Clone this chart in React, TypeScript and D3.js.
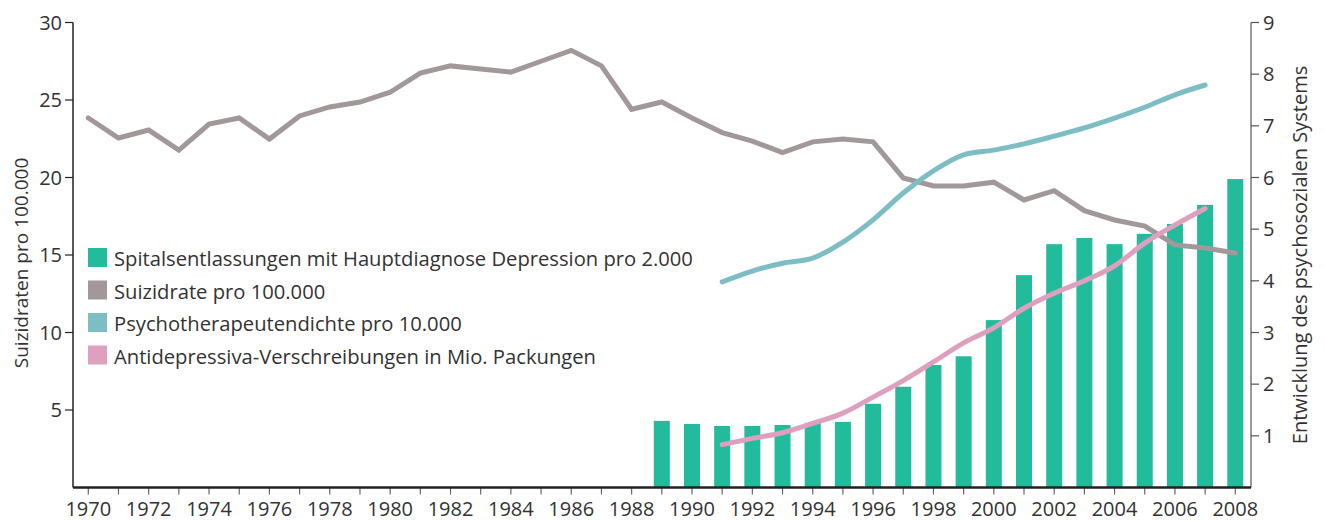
import React from "react";
import * as d3 from "d3";

const years = d3.range(1970, 2009);

// Suizidrate pro 100.000 (left axis), 1970-2008
const suicideRate = [
  23.84, 22.55, 23.06, 21.77, 23.45, 23.84, 22.48, 23.97, 24.55, 24.87,
  25.5, 26.74, 27.2, 27.0, 26.8, 27.5, 28.2, 27.2, 24.4, 24.87,
  23.84, 22.9, 22.35, 21.6, 22.3, 22.48, 22.3, 19.97, 19.45, 19.45,
  19.7, 18.55, 19.15, 17.86, 17.26, 16.87, 15.65, 15.45, 15.13,
];

// Spitalsentlassungen pro 2.000 (right axis), 1989-2008
const barYears = d3.range(1989, 2009);
const hospital = [
  1.29, 1.23, 1.19, 1.19, 1.21, 1.25, 1.27, 1.62, 1.95, 2.37,
  2.54, 3.24, 4.11, 4.71, 4.83, 4.71, 4.91, 5.1, 5.47, 5.97,
];

// Psychotherapeutendichte pro 10.000 (right axis), 1991-2007
const lineYears = d3.range(1991, 2008);
const therapists = [
  3.98, 4.19, 4.34, 4.44, 4.75, 5.18, 5.7, 6.13, 6.44, 6.53,
  6.65, 6.8, 6.96, 7.15, 7.36, 7.6, 7.79,
];

// Antidepressiva-Verschreibungen in Mio. Packungen (right axis), 1991-2007
const antidepressants = [
  0.83, 0.95, 1.06, 1.24, 1.44, 1.75, 2.07, 2.43, 2.8, 3.09,
  3.47, 3.76, 4.0, 4.29, 4.73, 5.08, 5.4,
];

const leftTicks = [5, 10, 15, 20, 25, 30];
const rightTicks = [1, 2, 3, 4, 5, 6, 7, 8, 9];
const yearLabels = d3.range(1970, 2009, 2);

const legendItems = [
  { label: "Spitalsentlassungen mit Hauptdiagnose Depression pro 2.000", color: "#22bb9b" },
  { label: "Suizidrate pro 100.000", color: "#a29899" },
  { label: "Psychotherapeutendichte pro 10.000", color: "#7dbec5" },
  { label: "Antidepressiva-Verschreibungen in Mio. Packungen", color: "#dfa0bf" },
];

const W = 1324;
const H = 521;
const font = "'Open Sans', sans-serif";
const textColor = "#333";
const fs = 20;

export default function App() {
  const x = d3.scaleLinear().domain([1970, 2008]).range([88.3, 1235.3]);
  const yLeft = d3.scaleLinear().domain([0, 30]).range([487.5, 22.5]);
  const yRight = d3.scaleLinear().domain([0, 9]).range([487.5, 22.5]);
  const axisLeftX = 73;
  const axisRightX = 1251;
  const base = yLeft(0);
  const barW = 16;

  const grayLine = d3
    .line<number>()
    .x((_, i) => x(years[i]))
    .y((d) => yLeft(d));

  const smoothLine = d3
    .line<number>()
    .x((_, i) => x(lineYears[i]))
    .y((d) => yRight(d))
    .curve(d3.curveMonotoneX);

  return (
    <svg
      width={W}
      height={H}
      style={{ position: "absolute", left: 0, top: 0, background: "#fff" }}
      fontFamily={font}
    >
      {/* bars */}
      {hospital.map((v, i) => (
        <rect
          key={barYears[i]}
          x={x(barYears[i]) - barW / 2}
          y={yRight(v)}
          width={barW}
          height={base - yRight(v)}
          fill="#22bb9b"
        />
      ))}

      {/* lines */}
      <path
        d={grayLine(suicideRate) ?? ""}
        fill="none"
        stroke="#a29899"
        strokeWidth={5}
        strokeLinecap="round"
      />
      <path
        d={smoothLine(therapists) ?? ""}
        fill="none"
        stroke="#7dbec5"
        strokeWidth={5}
        strokeLinecap="round"
      />
      <path
        d={smoothLine(antidepressants) ?? ""}
        fill="none"
        stroke="#dfa0bf"
        strokeWidth={5}
        strokeLinecap="round"
      />

      {/* left axis */}
      <line x1={axisLeftX} x2={axisLeftX} y1={yLeft(30)} y2={base} stroke="#222" strokeWidth={1.5} />
      {leftTicks.map((t) => (
        <g key={t}>
          <line x1={axisLeftX - 8} x2={axisLeftX} y1={yLeft(t)} y2={yLeft(t)} stroke="#222" strokeWidth={1.2} />
          <text x={axisLeftX - 11} y={yLeft(t)} dy="0.35em" textAnchor="end" fontSize={fs} fill={textColor}>
            {t}
          </text>
        </g>
      ))}
      <text
        transform={`translate(28,${(yLeft(30) + base) / 2 + 8}) rotate(-90)`}
        textAnchor="middle"
        fontSize={19}
        fill={textColor}
      >
        Suizidraten pro 100.000
      </text>

      {/* right axis */}
      <line x1={axisRightX} x2={axisRightX} y1={yRight(9)} y2={base} stroke="#555" strokeWidth={1.2} />
      {rightTicks.map((t) => (
        <g key={t}>
          <line x1={axisRightX} x2={axisRightX + 8} y1={yRight(t)} y2={yRight(t)} stroke="#555" strokeWidth={1.2} />
          <text x={axisRightX + 12} y={yRight(t)} dy="0.35em" textAnchor="start" fontSize={fs} fill={textColor}>
            {t}
          </text>
        </g>
      ))}
      <text
        transform={`translate(1307,${(yRight(9) + base) / 2}) rotate(-90)`}
        textAnchor="middle"
        fontSize={20}
        fill={textColor}
      >
        Entwicklung des psychosozialen Systems
      </text>

      {/* x axis */}
      {years.map((yr) => (
        <line key={yr} x1={x(yr)} x2={x(yr)} y1={base} y2={base + 7} stroke="#666" strokeWidth={1.2} />
      ))}
      <line x1={axisLeftX} x2={axisRightX} y1={base} y2={base} stroke="#222" strokeWidth={2.5} />
      {yearLabels.map((yr) => (
        <text key={yr} x={x(yr)} y={515.5} textAnchor="middle" fontSize={fs} fill={textColor}>
          {yr}
        </text>
      ))}

      {/* legend */}
      {legendItems.map((item, i) => (
        <g key={item.label} transform={`translate(88,${248 + i * 32.5})`}>
          <rect width={19} height={19} fill={item.color} />
          <text x={26} y={18} fontSize={20.2} fill={textColor}>
            {item.label}
          </text>
        </g>
      ))}
    </svg>
  );
}
